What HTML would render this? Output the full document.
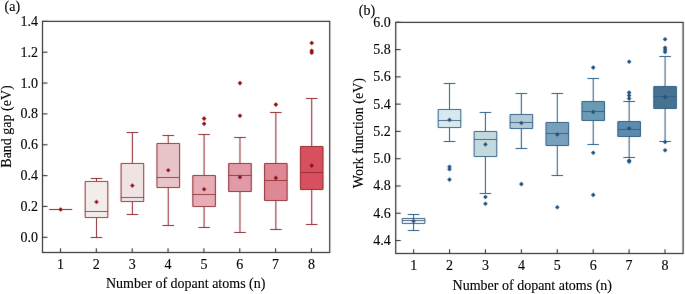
<!DOCTYPE html>
<html><head><meta charset="utf-8"><style>
html,body{margin:0;padding:0;background:#fff;}
body{width:685px;height:294px;overflow:hidden;font-family:"Liberation Serif",serif;}
svg{display:block;}
</style></head><body>
<svg width="685" height="294" viewBox="0 0 685 294">
<rect width="685" height="294" fill="#fff"/>
<defs><filter id="bl" x="0" y="0" width="685" height="294" filterUnits="userSpaceOnUse"><feConvolveMatrix order="3" kernelMatrix="0.0049 0.0602 0.0049 0.0602 0.7396 0.0602 0.0049 0.0602 0.0049" edgeMode="duplicate" preserveAlpha="false"/></filter></defs>
<g filter="url(#bl)">
<line x1="60.63" y1="209.50" x2="60.63" y2="209.50" stroke="#912a2e" stroke-width="1.05"/>
<line x1="60.63" y1="209.50" x2="60.63" y2="209.50" stroke="#912a2e" stroke-width="1.05"/>
<line x1="54.83" y1="209.50" x2="66.43" y2="209.50" stroke="#912a2e" stroke-width="1.05"/>
<line x1="54.83" y1="209.50" x2="66.43" y2="209.50" stroke="#912a2e" stroke-width="1.05"/>
<rect x="49.33" y="209.50" width="22.60" height="0.01" rx="0.6" fill="#f6f0f0" stroke="#912a2e" stroke-width="1.05"/>
<line x1="49.33" y1="209.50" x2="71.93" y2="209.50" stroke="#912a2e" stroke-width="1.05"/>
<path d="M60.63 207.20L62.93 209.50L60.63 211.80L58.33 209.50Z" fill="#8e0b0b"/>
<line x1="96.50" y1="178.50" x2="96.50" y2="181.50" stroke="#912a2e" stroke-width="1.05"/>
<line x1="96.50" y1="217.50" x2="96.50" y2="237.50" stroke="#912a2e" stroke-width="1.05"/>
<line x1="90.70" y1="178.50" x2="102.30" y2="178.50" stroke="#912a2e" stroke-width="1.05"/>
<line x1="90.70" y1="237.50" x2="102.30" y2="237.50" stroke="#912a2e" stroke-width="1.05"/>
<rect x="85.20" y="181.50" width="22.60" height="36.00" rx="0.6" fill="#f2eceb" stroke="#912a2e" stroke-width="1.05"/>
<line x1="85.20" y1="211.50" x2="107.80" y2="211.50" stroke="#912a2e" stroke-width="1.05"/>
<path d="M96.50 199.60L98.80 201.90L96.50 204.20L94.20 201.90Z" fill="#8e0b0b"/>
<line x1="132.37" y1="132.50" x2="132.37" y2="163.50" stroke="#912a2e" stroke-width="1.05"/>
<line x1="132.37" y1="201.50" x2="132.37" y2="214.50" stroke="#912a2e" stroke-width="1.05"/>
<line x1="126.57" y1="132.50" x2="138.17" y2="132.50" stroke="#912a2e" stroke-width="1.05"/>
<line x1="126.57" y1="214.50" x2="138.17" y2="214.50" stroke="#912a2e" stroke-width="1.05"/>
<rect x="121.07" y="163.50" width="22.60" height="38.00" rx="0.6" fill="#efe3e3" stroke="#912a2e" stroke-width="1.05"/>
<line x1="121.07" y1="197.50" x2="143.67" y2="197.50" stroke="#912a2e" stroke-width="1.05"/>
<path d="M132.37 183.30L134.67 185.60L132.37 187.90L130.07 185.60Z" fill="#8e0b0b"/>
<line x1="168.24" y1="135.50" x2="168.24" y2="143.50" stroke="#912a2e" stroke-width="1.05"/>
<line x1="168.24" y1="187.50" x2="168.24" y2="225.50" stroke="#912a2e" stroke-width="1.05"/>
<line x1="162.44" y1="135.50" x2="174.04" y2="135.50" stroke="#912a2e" stroke-width="1.05"/>
<line x1="162.44" y1="225.50" x2="174.04" y2="225.50" stroke="#912a2e" stroke-width="1.05"/>
<rect x="156.94" y="143.50" width="22.60" height="44.00" rx="0.6" fill="#e8c4c8" stroke="#912a2e" stroke-width="1.05"/>
<line x1="156.94" y1="177.50" x2="179.54" y2="177.50" stroke="#912a2e" stroke-width="1.05"/>
<path d="M168.24 168.00L170.54 170.30L168.24 172.60L165.94 170.30Z" fill="#8e0b0b"/>
<line x1="204.11" y1="134.50" x2="204.11" y2="175.50" stroke="#912a2e" stroke-width="1.05"/>
<line x1="204.11" y1="206.50" x2="204.11" y2="227.50" stroke="#912a2e" stroke-width="1.05"/>
<line x1="198.31" y1="134.50" x2="209.91" y2="134.50" stroke="#912a2e" stroke-width="1.05"/>
<line x1="198.31" y1="227.50" x2="209.91" y2="227.50" stroke="#912a2e" stroke-width="1.05"/>
<rect x="192.81" y="175.50" width="22.60" height="31.00" rx="0.6" fill="#e7acb5" stroke="#912a2e" stroke-width="1.05"/>
<line x1="192.81" y1="194.50" x2="215.41" y2="194.50" stroke="#912a2e" stroke-width="1.05"/>
<path d="M204.11 187.00L206.41 189.30L204.11 191.60L201.81 189.30Z" fill="#8e0b0b"/>
<path d="M204.11 116.30L206.41 118.60L204.11 120.90L201.81 118.60Z" fill="#8e0b0b"/>
<path d="M204.11 121.40L206.41 123.70L204.11 126.00L201.81 123.70Z" fill="#8e0b0b"/>
<line x1="239.98" y1="137.50" x2="239.98" y2="163.50" stroke="#912a2e" stroke-width="1.05"/>
<line x1="239.98" y1="191.50" x2="239.98" y2="232.50" stroke="#912a2e" stroke-width="1.05"/>
<line x1="234.18" y1="137.50" x2="245.78" y2="137.50" stroke="#912a2e" stroke-width="1.05"/>
<line x1="234.18" y1="232.50" x2="245.78" y2="232.50" stroke="#912a2e" stroke-width="1.05"/>
<rect x="228.68" y="163.50" width="22.60" height="28.00" rx="0.6" fill="#e09aa8" stroke="#912a2e" stroke-width="1.05"/>
<line x1="228.68" y1="175.50" x2="251.28" y2="175.50" stroke="#912a2e" stroke-width="1.05"/>
<path d="M239.98 175.00L242.28 177.30L239.98 179.60L237.68 177.30Z" fill="#8e0b0b"/>
<path d="M239.98 80.80L242.28 83.10L239.98 85.40L237.68 83.10Z" fill="#8e0b0b"/>
<path d="M239.98 113.50L242.28 115.80L239.98 118.10L237.68 115.80Z" fill="#8e0b0b"/>
<line x1="275.85" y1="112.50" x2="275.85" y2="163.50" stroke="#912a2e" stroke-width="1.05"/>
<line x1="275.85" y1="200.50" x2="275.85" y2="229.50" stroke="#912a2e" stroke-width="1.05"/>
<line x1="270.05" y1="112.50" x2="281.65" y2="112.50" stroke="#912a2e" stroke-width="1.05"/>
<line x1="270.05" y1="229.50" x2="281.65" y2="229.50" stroke="#912a2e" stroke-width="1.05"/>
<rect x="264.55" y="163.50" width="22.60" height="37.00" rx="0.6" fill="#de8896" stroke="#912a2e" stroke-width="1.05"/>
<line x1="264.55" y1="180.50" x2="287.15" y2="180.50" stroke="#912a2e" stroke-width="1.05"/>
<path d="M275.85 175.60L278.15 177.90L275.85 180.20L273.55 177.90Z" fill="#8e0b0b"/>
<path d="M275.85 102.30L278.15 104.60L275.85 106.90L273.55 104.60Z" fill="#8e0b0b"/>
<line x1="311.72" y1="98.50" x2="311.72" y2="146.50" stroke="#912a2e" stroke-width="1.05"/>
<line x1="311.72" y1="189.50" x2="311.72" y2="224.50" stroke="#912a2e" stroke-width="1.05"/>
<line x1="305.92" y1="98.50" x2="317.52" y2="98.50" stroke="#912a2e" stroke-width="1.05"/>
<line x1="305.92" y1="224.50" x2="317.52" y2="224.50" stroke="#912a2e" stroke-width="1.05"/>
<rect x="300.42" y="146.50" width="22.60" height="43.00" rx="0.6" fill="#d8505e" stroke="#912a2e" stroke-width="1.05"/>
<line x1="300.42" y1="172.50" x2="323.02" y2="172.50" stroke="#912a2e" stroke-width="1.05"/>
<path d="M311.72 163.30L314.02 165.60L311.72 167.90L309.42 165.60Z" fill="#8e0b0b"/>
<path d="M311.72 40.70L314.02 43.00L311.72 45.30L309.42 43.00Z" fill="#8e0b0b"/>
<path d="M311.72 48.50L314.02 50.80L311.72 53.10L309.42 50.80Z" fill="#8e0b0b"/>
<path d="M311.72 50.40L314.02 52.70L311.72 55.00L309.42 52.70Z" fill="#8e0b0b"/>
<rect x="42.5" y="21.4" width="287.2" height="231.1" fill="none" stroke="#333333" stroke-width="1.2"/>
<line x1="42.5" y1="237.30" x2="47.5" y2="237.30" stroke="#333333" stroke-width="1.1"/>
<line x1="42.5" y1="206.45" x2="47.5" y2="206.45" stroke="#333333" stroke-width="1.1"/>
<line x1="42.5" y1="175.60" x2="47.5" y2="175.60" stroke="#333333" stroke-width="1.1"/>
<line x1="42.5" y1="144.75" x2="47.5" y2="144.75" stroke="#333333" stroke-width="1.1"/>
<line x1="42.5" y1="113.90" x2="47.5" y2="113.90" stroke="#333333" stroke-width="1.1"/>
<line x1="42.5" y1="83.05" x2="47.5" y2="83.05" stroke="#333333" stroke-width="1.1"/>
<line x1="42.5" y1="52.20" x2="47.5" y2="52.20" stroke="#333333" stroke-width="1.1"/>
<line x1="42.5" y1="21.35" x2="47.5" y2="21.35" stroke="#333333" stroke-width="1.1"/>
<line x1="60.50" y1="252.5" x2="60.50" y2="248.3" stroke="#333333" stroke-width="1.1"/>
<line x1="96.35" y1="252.5" x2="96.35" y2="248.3" stroke="#333333" stroke-width="1.1"/>
<line x1="132.20" y1="252.5" x2="132.20" y2="248.3" stroke="#333333" stroke-width="1.1"/>
<line x1="168.05" y1="252.5" x2="168.05" y2="248.3" stroke="#333333" stroke-width="1.1"/>
<line x1="203.90" y1="252.5" x2="203.90" y2="248.3" stroke="#333333" stroke-width="1.1"/>
<line x1="239.75" y1="252.5" x2="239.75" y2="248.3" stroke="#333333" stroke-width="1.1"/>
<line x1="275.60" y1="252.5" x2="275.60" y2="248.3" stroke="#333333" stroke-width="1.1"/>
<line x1="311.45" y1="252.5" x2="311.45" y2="248.3" stroke="#333333" stroke-width="1.1"/>
<line x1="413.57" y1="214.50" x2="413.57" y2="218.50" stroke="#2f5f87" stroke-width="1.05"/>
<line x1="413.57" y1="223.50" x2="413.57" y2="230.50" stroke="#2f5f87" stroke-width="1.05"/>
<line x1="407.77" y1="214.50" x2="419.37" y2="214.50" stroke="#2f5f87" stroke-width="1.05"/>
<line x1="407.77" y1="230.50" x2="419.37" y2="230.50" stroke="#2f5f87" stroke-width="1.05"/>
<rect x="402.27" y="218.50" width="22.60" height="5.00" rx="0.6" fill="#eeeff5" stroke="#2f5f87" stroke-width="1.05"/>
<line x1="402.27" y1="220.50" x2="424.87" y2="220.50" stroke="#2f5f87" stroke-width="1.05"/>
<path d="M413.57 218.80L415.87 221.10L413.57 223.40L411.27 221.10Z" fill="#1f5283"/>
<line x1="449.50" y1="83.50" x2="449.50" y2="109.50" stroke="#2f5f87" stroke-width="1.05"/>
<line x1="449.50" y1="127.50" x2="449.50" y2="141.50" stroke="#2f5f87" stroke-width="1.05"/>
<line x1="443.70" y1="83.50" x2="455.30" y2="83.50" stroke="#2f5f87" stroke-width="1.05"/>
<line x1="443.70" y1="141.50" x2="455.30" y2="141.50" stroke="#2f5f87" stroke-width="1.05"/>
<rect x="438.20" y="109.50" width="22.60" height="18.00" rx="0.6" fill="#d8e8ef" stroke="#2f5f87" stroke-width="1.05"/>
<line x1="438.20" y1="120.50" x2="460.80" y2="120.50" stroke="#2f5f87" stroke-width="1.05"/>
<path d="M449.50 117.60L451.80 119.90L449.50 122.20L447.20 119.90Z" fill="#1f5283"/>
<path d="M449.50 164.50L451.80 166.80L449.50 169.10L447.20 166.80Z" fill="#1f5283"/>
<path d="M449.50 166.90L451.80 169.20L449.50 171.50L447.20 169.20Z" fill="#1f5283"/>
<path d="M449.50 177.30L451.80 179.60L449.50 181.90L447.20 179.60Z" fill="#1f5283"/>
<line x1="485.43" y1="112.50" x2="485.43" y2="131.50" stroke="#2f5f87" stroke-width="1.05"/>
<line x1="485.43" y1="156.50" x2="485.43" y2="193.50" stroke="#2f5f87" stroke-width="1.05"/>
<line x1="479.63" y1="112.50" x2="491.23" y2="112.50" stroke="#2f5f87" stroke-width="1.05"/>
<line x1="479.63" y1="193.50" x2="491.23" y2="193.50" stroke="#2f5f87" stroke-width="1.05"/>
<rect x="474.13" y="131.50" width="22.60" height="25.00" rx="0.6" fill="#c2d9df" stroke="#2f5f87" stroke-width="1.05"/>
<line x1="474.13" y1="139.50" x2="496.73" y2="139.50" stroke="#2f5f87" stroke-width="1.05"/>
<path d="M485.43 142.10L487.73 144.40L485.43 146.70L483.13 144.40Z" fill="#1f5283"/>
<path d="M485.43 194.70L487.73 197.00L485.43 199.30L483.13 197.00Z" fill="#1f5283"/>
<path d="M485.43 201.50L487.73 203.80L485.43 206.10L483.13 203.80Z" fill="#1f5283"/>
<line x1="521.36" y1="93.50" x2="521.36" y2="114.50" stroke="#2f5f87" stroke-width="1.05"/>
<line x1="521.36" y1="128.50" x2="521.36" y2="148.50" stroke="#2f5f87" stroke-width="1.05"/>
<line x1="515.56" y1="93.50" x2="527.16" y2="93.50" stroke="#2f5f87" stroke-width="1.05"/>
<line x1="515.56" y1="148.50" x2="527.16" y2="148.50" stroke="#2f5f87" stroke-width="1.05"/>
<rect x="510.06" y="114.50" width="22.60" height="14.00" rx="0.6" fill="#b2c9d6" stroke="#2f5f87" stroke-width="1.05"/>
<line x1="510.06" y1="122.50" x2="532.66" y2="122.50" stroke="#2f5f87" stroke-width="1.05"/>
<path d="M521.36 120.70L523.66 123.00L521.36 125.30L519.06 123.00Z" fill="#1f5283"/>
<path d="M521.36 181.80L523.66 184.10L521.36 186.40L519.06 184.10Z" fill="#1f5283"/>
<line x1="557.29" y1="93.50" x2="557.29" y2="122.50" stroke="#2f5f87" stroke-width="1.05"/>
<line x1="557.29" y1="145.50" x2="557.29" y2="175.50" stroke="#2f5f87" stroke-width="1.05"/>
<line x1="551.49" y1="93.50" x2="563.09" y2="93.50" stroke="#2f5f87" stroke-width="1.05"/>
<line x1="551.49" y1="175.50" x2="563.09" y2="175.50" stroke="#2f5f87" stroke-width="1.05"/>
<rect x="545.99" y="122.50" width="22.60" height="23.00" rx="0.6" fill="#78a0bd" stroke="#2f5f87" stroke-width="1.05"/>
<line x1="545.99" y1="133.50" x2="568.59" y2="133.50" stroke="#2f5f87" stroke-width="1.05"/>
<path d="M557.29 132.10L559.59 134.40L557.29 136.70L554.99 134.40Z" fill="#1f5283"/>
<path d="M557.29 205.00L559.59 207.30L557.29 209.60L554.99 207.30Z" fill="#1f5283"/>
<line x1="593.22" y1="78.50" x2="593.22" y2="101.50" stroke="#2f5f87" stroke-width="1.05"/>
<line x1="593.22" y1="120.50" x2="593.22" y2="144.50" stroke="#2f5f87" stroke-width="1.05"/>
<line x1="587.42" y1="78.50" x2="599.02" y2="78.50" stroke="#2f5f87" stroke-width="1.05"/>
<line x1="587.42" y1="144.50" x2="599.02" y2="144.50" stroke="#2f5f87" stroke-width="1.05"/>
<rect x="581.92" y="101.50" width="22.60" height="19.00" rx="0.6" fill="#6a9ab4" stroke="#2f5f87" stroke-width="1.05"/>
<line x1="581.92" y1="111.50" x2="604.52" y2="111.50" stroke="#2f5f87" stroke-width="1.05"/>
<path d="M593.22 109.60L595.52 111.90L593.22 114.20L590.92 111.90Z" fill="#1f5283"/>
<path d="M593.22 65.30L595.52 67.60L593.22 69.90L590.92 67.60Z" fill="#1f5283"/>
<path d="M593.22 150.40L595.52 152.70L593.22 155.00L590.92 152.70Z" fill="#1f5283"/>
<path d="M593.22 192.60L595.52 194.90L593.22 197.20L590.92 194.90Z" fill="#1f5283"/>
<line x1="629.15" y1="101.50" x2="629.15" y2="121.50" stroke="#2f5f87" stroke-width="1.05"/>
<line x1="629.15" y1="136.50" x2="629.15" y2="157.50" stroke="#2f5f87" stroke-width="1.05"/>
<line x1="623.35" y1="101.50" x2="634.95" y2="101.50" stroke="#2f5f87" stroke-width="1.05"/>
<line x1="623.35" y1="157.50" x2="634.95" y2="157.50" stroke="#2f5f87" stroke-width="1.05"/>
<rect x="617.85" y="121.50" width="22.60" height="15.00" rx="0.6" fill="#5d8bad" stroke="#2f5f87" stroke-width="1.05"/>
<line x1="617.85" y1="129.50" x2="640.45" y2="129.50" stroke="#2f5f87" stroke-width="1.05"/>
<path d="M629.15 125.90L631.45 128.20L629.15 130.50L626.85 128.20Z" fill="#1f5283"/>
<path d="M629.15 59.40L631.45 61.70L629.15 64.00L626.85 61.70Z" fill="#1f5283"/>
<path d="M629.15 90.30L631.45 92.60L629.15 94.90L626.85 92.60Z" fill="#1f5283"/>
<path d="M629.15 93.20L631.45 95.50L629.15 97.80L626.85 95.50Z" fill="#1f5283"/>
<path d="M629.15 96.30L631.45 98.60L629.15 100.90L626.85 98.60Z" fill="#1f5283"/>
<path d="M629.15 158.30L631.45 160.60L629.15 162.90L626.85 160.60Z" fill="#1f5283"/>
<path d="M629.15 159.50L631.45 161.80L629.15 164.10L626.85 161.80Z" fill="#1f5283"/>
<line x1="665.08" y1="56.50" x2="665.08" y2="86.50" stroke="#2f5f87" stroke-width="1.05"/>
<line x1="665.08" y1="108.50" x2="665.08" y2="141.50" stroke="#2f5f87" stroke-width="1.05"/>
<line x1="659.28" y1="56.50" x2="670.88" y2="56.50" stroke="#2f5f87" stroke-width="1.05"/>
<line x1="659.28" y1="141.50" x2="670.88" y2="141.50" stroke="#2f5f87" stroke-width="1.05"/>
<rect x="653.78" y="86.50" width="22.60" height="22.00" rx="0.6" fill="#46728f" stroke="#2f5f87" stroke-width="1.05"/>
<line x1="653.78" y1="96.50" x2="676.38" y2="96.50" stroke="#2f5f87" stroke-width="1.05"/>
<path d="M665.08 94.60L667.38 96.90L665.08 99.20L662.78 96.90Z" fill="#1f5283"/>
<path d="M665.08 37.00L667.38 39.30L665.08 41.60L662.78 39.30Z" fill="#1f5283"/>
<path d="M665.08 45.40L667.38 47.70L665.08 50.00L662.78 47.70Z" fill="#1f5283"/>
<path d="M665.08 47.50L667.38 49.80L665.08 52.10L662.78 49.80Z" fill="#1f5283"/>
<path d="M665.08 49.60L667.38 51.90L665.08 54.20L662.78 51.90Z" fill="#1f5283"/>
<path d="M665.08 139.70L667.38 142.00L665.08 144.30L662.78 142.00Z" fill="#1f5283"/>
<path d="M665.08 147.90L667.38 150.20L665.08 152.50L662.78 150.20Z" fill="#1f5283"/>
<rect x="395.7" y="22.4" width="287.40000000000003" height="231.1" fill="none" stroke="#333333" stroke-width="1.2"/>
<line x1="395.7" y1="240.54" x2="400.7" y2="240.54" stroke="#333333" stroke-width="1.1"/>
<line x1="395.7" y1="213.26" x2="400.7" y2="213.26" stroke="#333333" stroke-width="1.1"/>
<line x1="395.7" y1="185.98" x2="400.7" y2="185.98" stroke="#333333" stroke-width="1.1"/>
<line x1="395.7" y1="158.70" x2="400.7" y2="158.70" stroke="#333333" stroke-width="1.1"/>
<line x1="395.7" y1="131.42" x2="400.7" y2="131.42" stroke="#333333" stroke-width="1.1"/>
<line x1="395.7" y1="104.14" x2="400.7" y2="104.14" stroke="#333333" stroke-width="1.1"/>
<line x1="395.7" y1="76.86" x2="400.7" y2="76.86" stroke="#333333" stroke-width="1.1"/>
<line x1="395.7" y1="49.58" x2="400.7" y2="49.58" stroke="#333333" stroke-width="1.1"/>
<line x1="395.7" y1="22.30" x2="400.7" y2="22.30" stroke="#333333" stroke-width="1.1"/>
<line x1="413.65" y1="253.5" x2="413.65" y2="249.3" stroke="#333333" stroke-width="1.1"/>
<line x1="449.56" y1="253.5" x2="449.56" y2="249.3" stroke="#333333" stroke-width="1.1"/>
<line x1="485.47" y1="253.5" x2="485.47" y2="249.3" stroke="#333333" stroke-width="1.1"/>
<line x1="521.38" y1="253.5" x2="521.38" y2="249.3" stroke="#333333" stroke-width="1.1"/>
<line x1="557.29" y1="253.5" x2="557.29" y2="249.3" stroke="#333333" stroke-width="1.1"/>
<line x1="593.20" y1="253.5" x2="593.20" y2="249.3" stroke="#333333" stroke-width="1.1"/>
<line x1="629.11" y1="253.5" x2="629.11" y2="249.3" stroke="#333333" stroke-width="1.1"/>
<line x1="665.02" y1="253.5" x2="665.02" y2="249.3" stroke="#333333" stroke-width="1.1"/>
</g>
<g font-family="Liberation Serif" font-size="14" fill="#0a0a0a" stroke="#0a0a0a" stroke-width="0.15" style="will-change:transform">
<text x="38.0" y="241.80" text-anchor="end">0.0</text>
<text x="38.0" y="210.95" text-anchor="end">0.2</text>
<text x="38.0" y="180.10" text-anchor="end">0.4</text>
<text x="38.0" y="149.25" text-anchor="end">0.6</text>
<text x="38.0" y="118.40" text-anchor="end">0.8</text>
<text x="38.0" y="87.55" text-anchor="end">1.0</text>
<text x="38.0" y="56.70" text-anchor="end">1.2</text>
<text x="38.0" y="25.85" text-anchor="end">1.4</text>
<text x="60.50" y="268.6" text-anchor="middle">1</text>
<text x="96.35" y="268.6" text-anchor="middle">2</text>
<text x="132.20" y="268.6" text-anchor="middle">3</text>
<text x="168.05" y="268.6" text-anchor="middle">4</text>
<text x="203.90" y="268.6" text-anchor="middle">5</text>
<text x="239.75" y="268.6" text-anchor="middle">6</text>
<text x="275.60" y="268.6" text-anchor="middle">7</text>
<text x="311.45" y="268.6" text-anchor="middle">8</text>
<text x="4.6" y="10.9">(a)</text>
<text transform="translate(11.2 126.5) rotate(-90)" text-anchor="middle">Band gap (eV)</text>
<text x="106" y="287.7">Number of dopant atoms (n)</text>
<text x="390.8" y="245.04" text-anchor="end">4.4</text>
<text x="390.8" y="217.76" text-anchor="end">4.6</text>
<text x="390.8" y="190.48" text-anchor="end">4.8</text>
<text x="390.8" y="163.20" text-anchor="end">5.0</text>
<text x="390.8" y="135.92" text-anchor="end">5.2</text>
<text x="390.8" y="108.64" text-anchor="end">5.4</text>
<text x="390.8" y="81.36" text-anchor="end">5.6</text>
<text x="390.8" y="54.08" text-anchor="end">5.8</text>
<text x="390.8" y="26.80" text-anchor="end">6.0</text>
<text x="413.65" y="269.6" text-anchor="middle">1</text>
<text x="449.56" y="269.6" text-anchor="middle">2</text>
<text x="485.47" y="269.6" text-anchor="middle">3</text>
<text x="521.38" y="269.6" text-anchor="middle">4</text>
<text x="557.29" y="269.6" text-anchor="middle">5</text>
<text x="593.20" y="269.6" text-anchor="middle">6</text>
<text x="629.11" y="269.6" text-anchor="middle">7</text>
<text x="665.02" y="269.6" text-anchor="middle">8</text>
<text x="358.8" y="14.6">(b)</text>
<text transform="translate(362.6 133.1) rotate(-90)" text-anchor="middle">Work function (eV)</text>
<text x="452.6" y="289.7">Number of dopant atoms (n)</text>
</g></svg>
</body></html>
